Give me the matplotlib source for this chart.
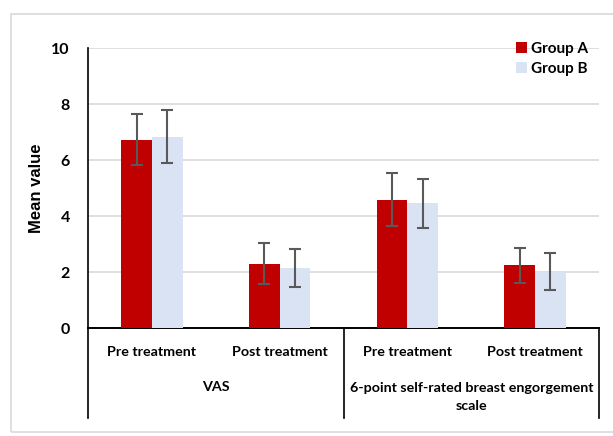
import matplotlib
matplotlib.use("Agg")
import matplotlib.pyplot as plt
from matplotlib.patches import Rectangle
import numpy as np

categories = ["Pre treatment", "Post treatment", "Pre treatment", "Post treatment"]
groups = ["VAS", "6-point self-rated breast engorgement\nscale"]
series_names = ["Group A", "Group B"]
group_a = [6.73, 2.30, 4.58, 2.24]
group_a_err = [0.90, 0.73, 0.94, 0.63]
group_b = [6.83, 2.13, 4.45, 2.01]
group_b_err = [0.95, 0.68, 0.88, 0.67]
yticks = [0, 2, 4, 6, 8, 10]

W, H = 613, 436
fig = plt.figure(figsize=(W / 100, H / 100), dpi=100)
fig.patch.set_facecolor("white")
fig.patches.append(Rectangle((11 / W, 1 - 432 / H), (W + 5 - 11) / W, (432 - 14) / H,
                             transform=fig.transFigure, fill=False, edgecolor="#d9d9d9",
                             linewidth=1.2))

left, right, top, bot = 88, 599, 48, 328
ax = fig.add_axes([left / W, 1 - bot / H, (right - left) / W, (bot - top) / H])

font = "Lato"
fs = 10.3
x = np.arange(len(categories))
bw = 0.24
ekw = dict(ecolor="#595959", elinewidth=1.5, capsize=4, capthick=1.5)
ax.bar(x - bw / 2, group_a, bw, yerr=group_a_err, color="#C00000", label=series_names[0],
       error_kw=ekw, zorder=3)
ax.bar(x + bw / 2, group_b, bw, yerr=group_b_err, color="#DAE3F3", label=series_names[1],
       error_kw=ekw, zorder=3)

ax.set_xlim(-0.5, 3.5)
ax.set_ylim(0, 10)
ax.set_yticks(yticks)
ax.set_yticklabels([str(t) for t in yticks], fontfamily=font, fontweight="bold", fontsize=11.5)
ax.tick_params(axis="y", length=0, pad=13)
ax.set_xticks([])
ax.grid(axis="y", color="#d9d9d9", linewidth=1.2, zorder=0)
for s in ["top", "right"]:
    ax.spines[s].set_visible(False)
ax.spines["left"].set_color("black")
ax.spines["bottom"].set_color("black")
ax.spines["left"].set_linewidth(1.2)
ax.spines["bottom"].set_linewidth(1.2)

ax.set_ylabel("Mean value", fontfamily="Liberation Sans", fontweight="bold", fontsize=12)
ax.yaxis.set_label_coords(-(88 - 44) / (right - left), 0.5)

# category table below the axis
tr = ax.get_xaxis_transform()
tb = -(418 - bot) / (bot - top)
ax.plot([-0.5, -0.5], [0, tb], transform=tr, color="black", lw=1.2, clip_on=False)
ax.plot([1.5, 1.5], [0, tb], transform=tr, color="black", lw=1.2, clip_on=False)
ax.plot([3.5, 3.5], [0, tb], transform=tr, color="black", lw=1.2, clip_on=False)
ax.plot([-0.5, 3.5], [0, 0], transform=tr, color="black", lw=1.2, clip_on=False)

ycat = -(352 - bot) / (bot - top)
for xi, c in zip(x, categories):
    ax.text(xi, ycat, c, transform=tr, ha="center", va="center", fontfamily=font,
            fontweight="bold", fontsize=fs)
for xc, g in zip([0.5, 2.5], groups):
    yc = (387 + 407) / 2 if "\n" in g else 387
    ax.text(xc, -(yc - bot) / (bot - top), g, transform=tr, ha="center", va="center",
            fontfamily=font, fontweight="bold", fontsize=fs, linespacing=1.55)

leg = ax.legend(loc="upper right", bbox_to_anchor=((594 - left) / (right - left), 1.045),
                frameon=False, prop=dict(family=font, weight="bold", size=11),
                handlelength=0.7, handleheight=0.7, handletextpad=0.25, labelspacing=0.4,
                borderaxespad=0.0)

fig.savefig("out.png", dpi=100)
